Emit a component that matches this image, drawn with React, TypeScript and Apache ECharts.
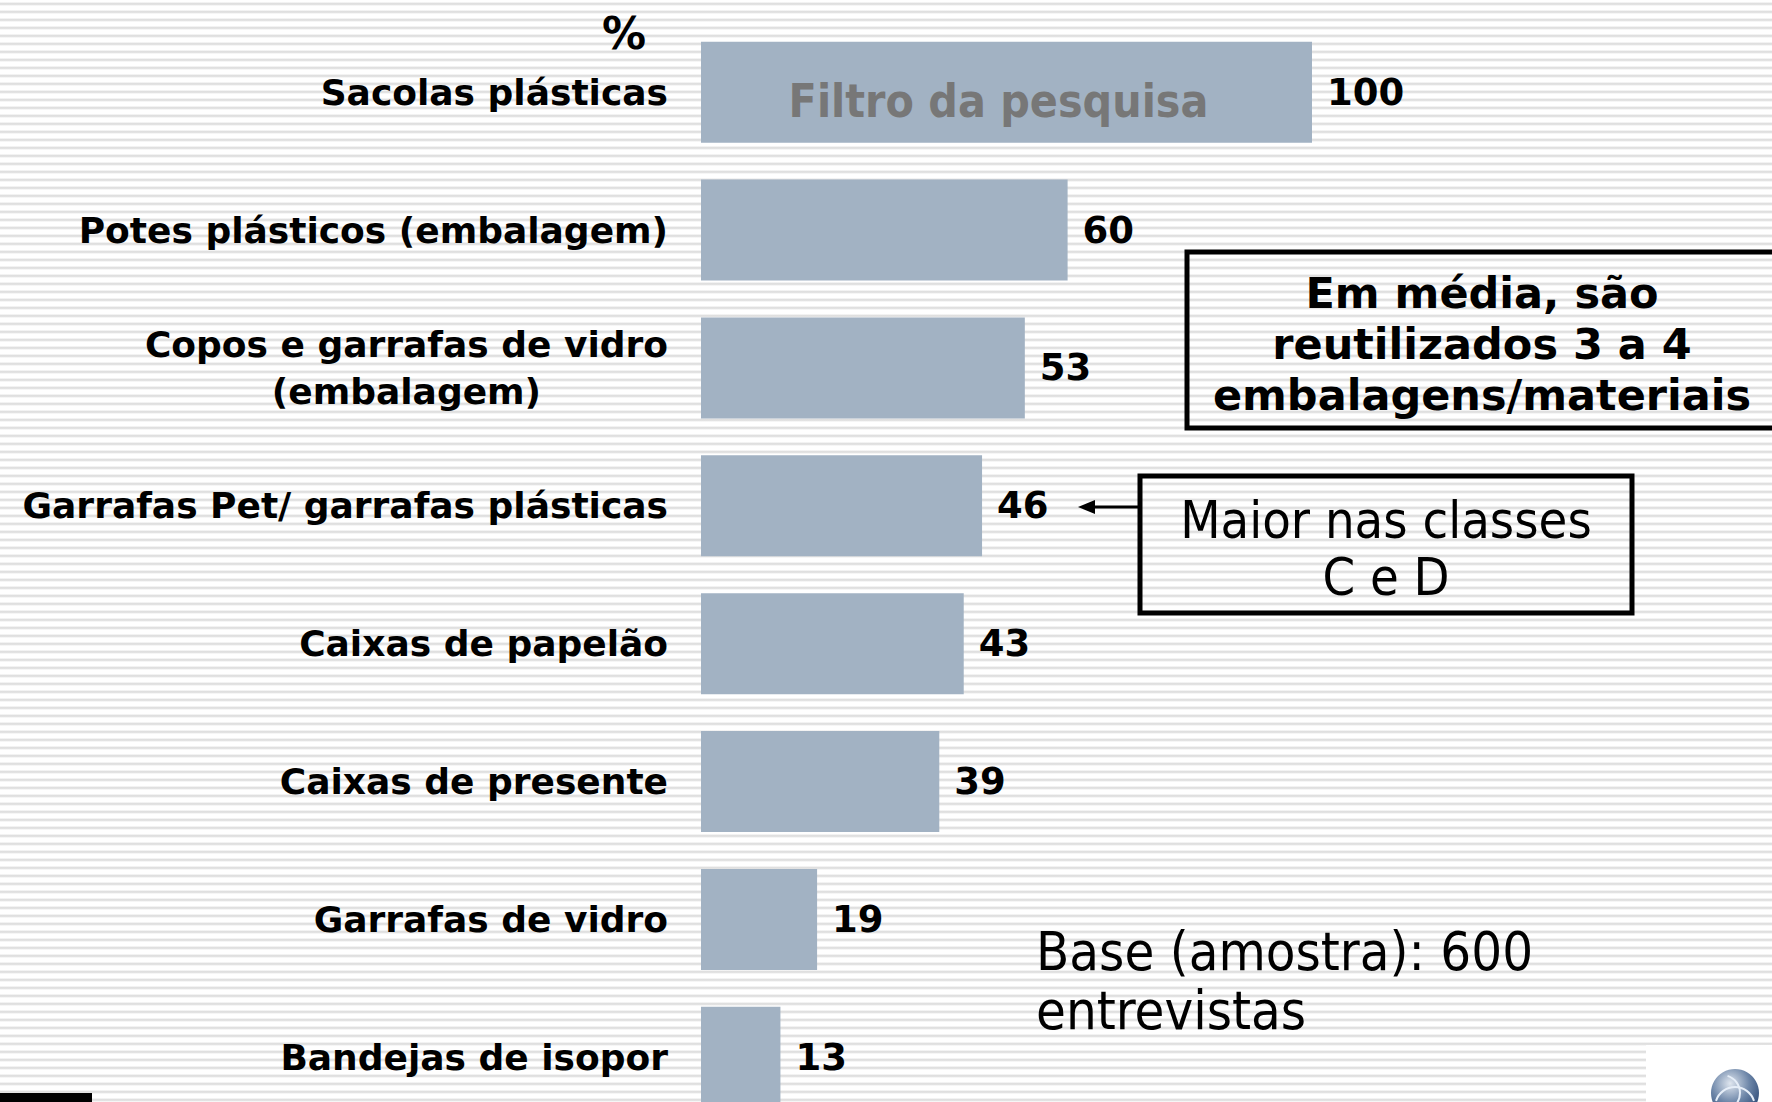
import React, { useEffect, useRef } from "react";
import * as echarts from "echarts";

const categories = [
  "Sacolas plásticas",
  "Potes plásticos (embalagem)",
  "Copos e garrafas de vidro\n(embalagem)",
  "Garrafas Pet/ garrafas plásticas",
  "Caixas de papelão",
  "Caixas de presente",
  "Garrafas de vidro",
  "Bandejas de isopor",
];
const values = [100, 60, 53, 46, 43, 39, 19, 13];
const unitLabel = "%";
const filterNote = "Filtro da pesquisa";
const averageNote = "Em média, são\nreutilizados 3 a 4\nembalagens/materiais";
const classNote = "Maior nas classes\nC e D";
const baseNoteLines = ["Base (amostra): 600", "entrevistas"];

const SANS = "'DejaVu Sans', Verdana, sans-serif";
const COND = "'DejaVu Sans Condensed', 'DejaVu Sans', Tahoma, sans-serif";

export default function App() {
  const ref = useRef<HTMLDivElement>(null);

  useEffect(() => {
    document.body.style.margin = "0";
    if (!ref.current) return;
    const chart = echarts.init(ref.current, undefined, { renderer: "svg" });
    chart.setOption({
      animation: false,
      backgroundColor: "transparent",
      grid: { left: 701, top: 23.2, width: 611, height: 1103, containLabel: false },
      xAxis: {
        type: "value",
        min: 0,
        max: 100,
        show: false,
      },
      yAxis: {
        type: "category",
        data: categories,
        inverse: true,
        axisLine: { show: false },
        axisTick: { show: false },
        splitLine: { show: false },
        axisLabel: {
          margin: 33,
          formatter: (v: string) =>
            v
              .split("\n")
              .map((l) => `{c|${l}}`)
              .join("\n"),
          rich: {
            c: {
              align: "center",
              fontSize: 36,
              fontWeight: "bold",
              fontFamily: SANS,
              color: "#000",
              lineHeight: 47,
            },
          },
        },
      },
      series: [
        {
          type: "bar",
          data: values,
          barWidth: 101,
          itemStyle: { color: "#a2b2c3" },
          label: {
            show: true,
            position: "right",
            distance: 15,
            fontSize: 37,
            fontWeight: "bold",
            fontFamily: SANS,
            color: "#000",
          },
          markPoint: {
            symbol: "rect",
            symbolSize: 0,
            silent: true,
            data: [
              {
                coord: [values[0] / 2, categories[0]],
                label: {
                  show: true,
                  formatter: filterNote,
                  position: "inside",
                  offset: [-8, 9],
                  fontSize: 46,
                  fontWeight: "bold",
                  fontFamily: COND,
                  color: "#777777",
                },
              },
            ],
          },
        },
      ],
      graphic: [
        {
          type: "text",
          x: 624,
          y: 33,
          style: {
            text: unitLabel,
            font: `bold 44px ${SANS}`,
            fill: "#000",
            align: "center",
            verticalAlign: "middle",
          },
        },
        {
          type: "rect",
          shape: { x: 1187, y: 252, width: 620, height: 176 },
          style: { fill: "none", stroke: "#000", lineWidth: 5 },
        },
        {
          type: "text",
          x: 1482,
          y: 344,
          style: {
            text: averageNote,
            font: `bold 43px ${SANS}`,
            fill: "#000",
            align: "center",
            verticalAlign: "middle",
            lineHeight: 51,
          },
        },
        {
          type: "rect",
          shape: { x: 1140, y: 476, width: 492, height: 137 },
          style: { fill: "none", stroke: "#000", lineWidth: 5 },
        },
        {
          type: "text",
          x: 1386,
          y: 548,
          style: {
            text: classNote,
            font: `52px ${COND}`,
            fill: "#000",
            align: "center",
            verticalAlign: "middle",
            lineHeight: 57,
          },
        },
        {
          type: "line",
          shape: { x1: 1138, y1: 507, x2: 1090, y2: 507 },
          style: { stroke: "#000", lineWidth: 3 },
        },
        {
          type: "polygon",
          shape: { points: [[1078, 507], [1095, 500], [1095, 514]] },
          style: { fill: "#000" },
        },
        ...baseNoteLines.map((line, i) => ({
          type: "text",
          x: 1036,
          y: 951.5 + i * 59,
          style: {
            text: line,
            font: `54px ${COND}`,
            fill: "#000",
            align: "left",
            verticalAlign: "middle",
          },
        })),
        {
          type: "rect",
          shape: { x: 0, y: 1093, width: 92, height: 9 },
          style: { fill: "#000" },
        },
        {
          type: "rect",
          shape: { x: 1646, y: 1045, width: 126, height: 85 },
          style: { fill: "#ffffff" },
        },
        {
          type: "circle",
          shape: { cx: 1735, cy: 1093, r: 24 },
          style: {
            fill: new echarts.graphic.RadialGradient(0.4, 0.3, 0.8, [
              { offset: 0, color: "#dfe6ef" },
              { offset: 0.5, color: "#6d86a8" },
              { offset: 1, color: "#1f3d6b" },
            ]),
          },
        },
        {
          type: "arc",
          shape: { cx: 1735, cy: 1107, r: 20, startAngle: Math.PI * 1.1, endAngle: Math.PI * 1.9 },
          style: { stroke: "#e6eef8", lineWidth: 2, fill: "none" },
        },
        {
          type: "arc",
          shape: { cx: 1722, cy: 1093, r: 18, startAngle: -Math.PI * 0.4, endAngle: Math.PI * 0.4 },
          style: { stroke: "#e6eef8", lineWidth: 2, fill: "none" },
        },
        {
          type: "rect",
          shape: { x: 0, y: 1102, width: 1772, height: 40 },
          style: { fill: "#ffffff" },
        },
      ],
    });
    return () => chart.dispose();
  }, []);

  return (
    <div
      style={{
        width: 1772,
        height: 1102,
        overflow: "hidden",
        background:
          "repeating-linear-gradient(180deg, #ffffff 0px, #ffffff 2px, #e6e6e6 3px, #d9d9d9 4px, #ececec 5px, #ffffff 6px, #ffffff 8px)",
      }}
    >
      <div ref={ref} style={{ width: 1772, height: 1140 }} />
    </div>
  );
}
